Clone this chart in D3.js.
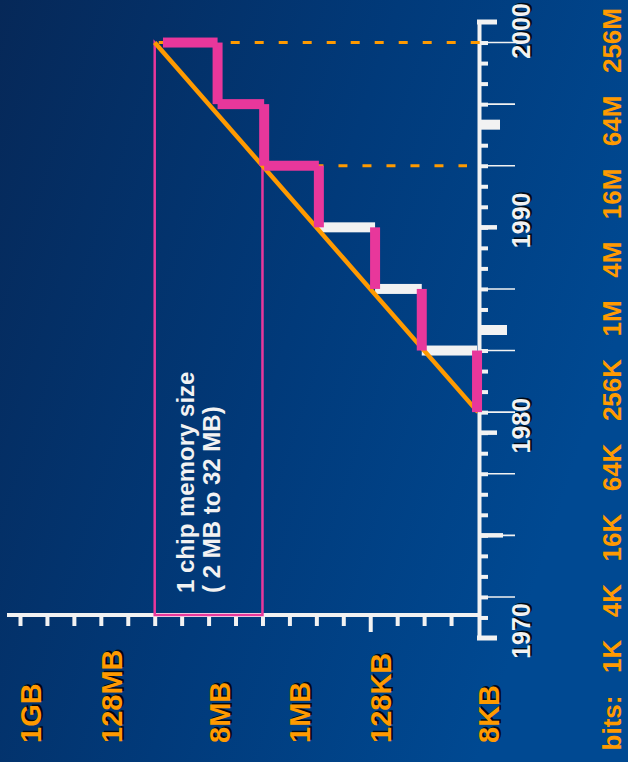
<!DOCTYPE html>
<html><head><meta charset="utf-8">
<script src="https://cdn.jsdelivr.net/npm/d3@7"></script>
<style>html,body{margin:0;padding:0;background:#03306a;overflow:hidden}svg{display:block}</style>
</head><body><svg id="c" width="628" height="762"></svg>
<script>
// ---------------- data ----------------
const yearLabels = [1970, 1980, 1990, 2000];
const yearTicks = [1971,1972,1973,1974,1975,1976,1977,1978,1979,1980,1981,1982,1983,1984,1985,1986,1987,1988,1989,1990,1991,1992,1993,1994,1995,1996,1997,1998,1999];
const longTickYears = [1972, 1975, 1978, 1981, 1984, 1987, 1993, 1996, 1999];
const midTickYears = [1975, 1980, 1990];
const capYears = [1970, 2000];
const blockTickYears = [1985, 1995];

const memTicksKB = [16, 32, 64, 128, 256, 512, 1024, 2048, 4096, 8192, 16384, 32768, 65536, 131072, 262144, 524288, 1048576];
const memLabels = ["1GB", "128MB", "8MB", "1MB", "128KB", "8KB"];
const memLabelKB = [1048576, 131072, 8192, 1024, 128, 8];

const bitsLabels = ["bits:", "1K", "4K", "16K", "64K", "256K", "1M", "4M", "16M", "64M", "256M"];

// DRAM generation staircase (year, minimum memory size in KB)
const stepYears = [1981, 1984, 1987, 1990, 1993, 1996, 1999];
const stepMemKB = [8.2, 34, 113, 480, 1960, 6500, 26500];
const riserKind = ["white", "white", "white", "pink", "pink", "pink"];

// memory growth trend line
const trendYears = [1981, 1999];
const trendMemKB = [8, 32768];

// "1 chip memory size" region (2 MB to 32 MB)
const chipYears = [1993, 1999];
const chipMemKB = [2048, 32768];
const chipText = ["1 chip memory size", "( 2 MB to 32 MB)"];

// ---------------- drawing ----------------
const W = 628, H = 762;
const ORANGE = "#ff9a00", PINK = "#e8379b", WHITE = "#f2f2f2";
const FONT = "'Liberation Sans', Arial, Helvetica, sans-serif";

const yScale = d3.scaleLinear().domain([1970, 2000]).range([638, 22]);
const xScale = d3.scaleLog().base(2).domain([8, 1048576]).range([478, 20]);
const yAxisX = 479, memAxisY = 615;

const svg = d3.select("#c");
const defs = svg.append("defs");
const grad = defs.append("linearGradient").attr("id", "bg")
  .attr("x1", "0").attr("y1", "0").attr("x2", "1").attr("y2", "0.4");
grad.append("stop").attr("offset", "0").attr("stop-color", "#062858");
grad.append("stop").attr("offset", "0.55").attr("stop-color", "#013a7a");
grad.append("stop").attr("offset", "1").attr("stop-color", "#004992");
svg.append("rect").attr("width", W).attr("height", H).attr("fill", "url(#bg)");

// --- memory axis (horizontal) ---
const gx = svg.append("g").attr("transform", `translate(0,${memAxisY})`)
  .call(d3.axisBottom(xScale).tickValues(memTicksKB).tickSize(11).tickSizeOuter(0).tickFormat(""));
gx.select(".domain").remove();
gx.selectAll(".tick line").attr("stroke", WHITE).attr("stroke-width", 4).attr("y1", 2)
  .attr("y2", d => d === 128 ? 17 : 11);
svg.append("line").attr("x1", 7).attr("x2", yAxisX + 2).attr("y1", memAxisY).attr("y2", memAxisY)
  .attr("stroke", WHITE).attr("stroke-width", 4);

// --- year axis (vertical) ---
const gy = svg.append("g").attr("transform", `translate(${yAxisX},0)`)
  .call(d3.axisRight(yScale).tickValues(yearTicks).tickSize(9).tickSizeOuter(0).tickFormat(""));
gy.select(".domain").attr("stroke", WHITE).attr("stroke-width", 4);
gy.selectAll(".tick line").attr("stroke", WHITE).attr("stroke-width", 4);
const gyx = svg.append("g").attr("transform", `translate(${yAxisX},0)`);
gyx.selectAll("line.long").data(longTickYears).join("line").attr("class", "long")
  .attr("x1", 0).attr("x2", 36).attr("y1", d => yScale(d)).attr("y2", d => yScale(d))
  .attr("stroke", WHITE).attr("stroke-width", 1.6);
gyx.selectAll("line.mid").data(midTickYears).join("line").attr("class", "mid")
  .attr("x1", 0).attr("x2", d => d === 1975 ? 24 : 18).attr("y1", d => yScale(d)).attr("y2", d => yScale(d))
  .attr("stroke", WHITE).attr("stroke-width", 4.5);
gyx.selectAll("line.cap").data(capYears).join("line").attr("class", "cap")
  .attr("x1", -2).attr("x2", 18).attr("y1", d => yScale(d)).attr("y2", d => yScale(d))
  .attr("stroke", WHITE).attr("stroke-width", 5);
gyx.selectAll("line.block").data(blockTickYears).join("line").attr("class", "block")
  .attr("x1", 0).attr("x2", d => d === 1985 ? 28 : 21).attr("y1", d => yScale(d)).attr("y2", d => yScale(d))
  .attr("stroke", WHITE).attr("stroke-width", 10);

// --- 1 chip region outline ---
const cTop = [xScale(chipMemKB[1]), yScale(chipYears[1])];
const cRight = [xScale(chipMemKB[0]), yScale(chipYears[0])];
svg.append("path")
  .attr("d", `M${cTop[0]},${cTop[1]}L${cRight[0]},${cRight[1]}L${cRight[0]},${memAxisY}L${cTop[0]},${memAxisY}Z`)
  .attr("fill", "none").attr("stroke", PINK).attr("stroke-width", 2.5);

// --- dashed guide lines ---
svg.append("line").attr("x1", cTop[0]).attr("x2", yAxisX + 1).attr("y1", cTop[1]).attr("y2", cTop[1])
  .attr("stroke", ORANGE).attr("stroke-width", 3).attr("stroke-dasharray", "9,15").attr("stroke-dashoffset", -4);
svg.append("line").attr("x1", cRight[0]).attr("x2", yAxisX - 12).attr("y1", cRight[1]).attr("y2", cRight[1])
  .attr("stroke", ORANGE).attr("stroke-width", 3).attr("stroke-dasharray", "9,15").attr("stroke-dashoffset", -4);

// --- staircase: horizontal risers (white first) ---
const BAR = 10;
const risers = riserKind.map((k, i) => ({ k, year: stepYears[i + 1], from: stepMemKB[i], to: stepMemKB[i + 1] }));
svg.selectAll("rect.rw").data(risers.filter(d => d.k === "white")).join("rect").attr("class", "rw")
  .attr("x", d => xScale(d.to)).attr("width", d => xScale(d.from) - xScale(d.to))
  .attr("y", d => yScale(d.year) - BAR / 2).attr("height", BAR).attr("fill", WHITE);

// --- trend line ---
svg.append("line")
  .attr("x1", xScale(trendMemKB[0])).attr("y1", yScale(trendYears[0]))
  .attr("x2", xScale(trendMemKB[1])).attr("y2", yScale(trendYears[1]))
  .attr("stroke", ORANGE).attr("stroke-width", 4.5);

// --- pink vertical treads ---
const treads = stepMemKB.slice(0, 6).map((m, i) => ({ m, y0: stepYears[i], y1: stepYears[i + 1] }));
svg.selectAll("rect.tv").data(treads).join("rect").attr("class", "tv")
  .attr("x", d => xScale(d.m) - BAR / 2).attr("width", BAR)
  .attr("y", d => yScale(d.y1)).attr("height", d => yScale(d.y0) - yScale(d.y1)).attr("fill", PINK);
svg.selectAll("rect.rp").data(risers.filter(d => d.k === "pink")).join("rect").attr("class", "rp")
  .attr("x", d => xScale(d.to)).attr("width", d => xScale(d.from) - xScale(d.to))
  .attr("y", d => yScale(d.year) - BAR / 2).attr("height", BAR).attr("fill", PINK);

// --- text helpers ---
function vtext(x, y, str, size, fill, anchor, shadow) {
  const g = svg.append("g");
  if (shadow) {
    g.append("text").attr("transform", `translate(${x + 2},${y - 1.5}) rotate(-90)`)
      .attr("text-anchor", anchor).attr("font-family", FONT).attr("font-weight", "bold")
      .attr("font-size", size).attr("fill", "#000").attr("fill-opacity", 0.85).text(str);
  }
  return g.append("text").attr("transform", `translate(${x},${y}) rotate(-90)`)
    .attr("text-anchor", anchor).attr("font-family", FONT).attr("font-weight", "bold")
    .attr("font-size", size).attr("fill", fill).text(str);
}

// year labels
yearLabels.forEach(y => {
  const cy = Math.max(yScale(y) - 7, 31);
  vtext(530, cy, String(y), 25, WHITE, "middle", true);
});

// memory labels
memLabels.forEach((t, i) => {
  const cx = xScale(memLabelKB[i]) + 11;
  vtext(cx + 10, 743, t, 29, ORANGE, "start", true);
});

// bits labels: flow from top downward (reading bottom-to-top)
let pos = 8;
bitsLabels.slice().reverse().forEach(t => {
  const el = vtext(621, pos, t, 26, ORANGE, "end", false);
  const w = el.node().getComputedTextLength();
  pos += w + 22.5;
});

// chip text
chipText.forEach((t, i) => {
  vtext(194 + i * 26, 593, t, 24, WHITE, "start", false);
});
</script>
</body></html>
